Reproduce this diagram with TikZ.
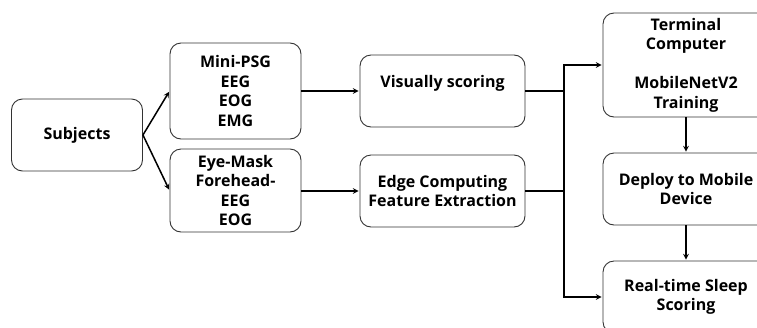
\documentclass[tikz,border=0pt]{standalone}
\usepackage{fontspec}
\setmainfont{Open Sans}
\usepackage{tikz}
\usetikzlibrary{arrows,positioning}

\begin{document}
\begin{tikzpicture}[x=1pt, y=-1pt, >=stealth, shorten >=1pt,
    box/.style={draw=black!80, line width=0.9pt, rounded corners=11pt, align=center,
      inner sep=0pt, font=\fontsize{16}{19.5}\selectfont\bfseries},
    link/.style={->, line width=1.5pt},
    wire/.style={line width=1.5pt}]

  \useasboundingbox (0,0) rectangle (757,327);
  \clip (0,0) rectangle (757,327);

  \node[box, minimum width=131pt, minimum height=72pt] (subj) at (77,135) {Subjects};
  \node[box, minimum width=131pt, minimum height=96pt] (psg) at (235.5,91) {Mini-PSG\\EEG\\EOG\\EMG};
  \node[box, minimum width=131pt, minimum height=83pt] (mask) at (235.5,190.5) {Eye-Mask\\Forehead-\\EEG\\EOG};

  \node[box, minimum width=165pt, minimum height=72pt] (vis) at (442.5,91) {Visually scoring\\\mbox{}};
  \node[box, minimum width=165pt, minimum height=72pt] (edge) at (442.5,191) {Edge Computing\\Feature Extraction};

  \node[box, minimum width=166pt, minimum height=104pt] (term) at (686,65) {Terminal\\Computer\\\mbox{}\\MobileNetV2\\Training};
  \node[box, minimum width=166pt, minimum height=72pt] (deploy) at (686,189) {Deploy to Mobile\\Device};
  \node[box, minimum width=166pt, minimum height=72pt] (rts) at (686,297) {Real-time Sleep\\Scoring};

  \coordinate (split) at (564,191);

  \draw[link] (subj.east) -- (psg.west);
  \draw[link] (subj.east) -- (mask.west);
  \draw[link] (psg.east) -- (vis.west);
  \draw[link] (mask.east |- edge.west) -- (edge.west);
  \draw[wire] (vis.east) -- (vis.east -| split);
  \draw[wire] (edge.east) -- (split);
  \draw[link] (split) |- (term.west);
  \draw[link] (split) |- (rts.west);
  \draw[link] (term.south) -- (deploy.north);
  \draw[link] (deploy.south) -- (rts.north);
\end{tikzpicture}
\end{document}
